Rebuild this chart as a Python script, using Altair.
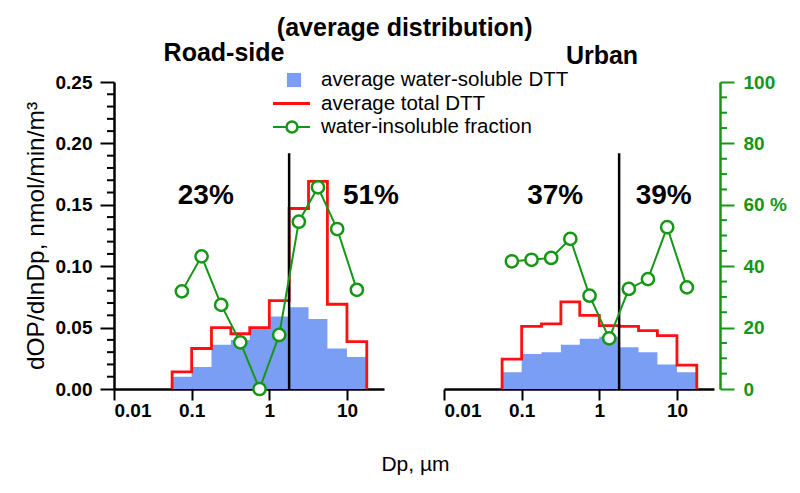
import altair as alt
import pandas as pd
import numpy as np

# ---------------- data ----------------
EDGES = [0.056, 0.1, 0.18, 0.32, 0.56, 1.0, 1.8, 3.2, 5.6, 10.0, 18.0]

ROAD_WS = [0.010, 0.018, 0.036, 0.040, 0.0495, 0.059, 0.0665, 0.057, 0.033, 0.026]
ROAD_TOT = [0.014, 0.033, 0.050, 0.045, 0.050, 0.072, 0.147, 0.169, 0.069, 0.0385]
ROAD_INS = [31.8, 43.2, 27.4, 15.2, 0.0, 17.6, 54.5, 65.7, 52.1, 32.3]

URB_WS = [0.0136, 0.0285, 0.030, 0.036, 0.041, 0.0426, 0.034, 0.030, 0.020, 0.0136]
URB_TOT = [0.0244, 0.051, 0.053, 0.071, 0.060, 0.0516, 0.051, 0.0475, 0.0434, 0.0195]
URB_INS = [41.6, 42.1, 42.7, 48.9, 30.4, 16.5, 32.6, 35.8, 52.7, 33.1]

CUTOFF = 1.8
CUTOFF_TOP = 0.192

ROAD_PCT_TEXT = ["23%", "51%"]
ROAD_PCT_X = [0.152, 20.4]
URB_PCT_TEXT = ["37%", "39%"]
URB_PCT_X = [0.27, 6.75]
PCT_Y = 0.157

LEGEND_LABELS = ["average water-soluble DTT", "average total DTT", "water-insoluble fraction"]

X_TICKS = [0.01, 0.1, 1, 10]
Y_TICKS = [0.0, 0.05, 0.10, 0.15, 0.20, 0.25]
Y_MINOR = [round(i * 0.01, 2) for i in range(26) if i % 5 != 0]
P_TICKS = [0, 20, 40, 60, 80, 100]
P_MINOR = [v for v in range(0, 101, 5) if v % 20 != 0]

# ---------------- style ----------------
BLUE = "#7b9ef5"
RED = "#ff1010"
GREEN = "#169616"
FONT = "Liberation Sans"
W, H = 270, 307

xscale = alt.Scale(type="log", domain=[0.01, 30])
yscale = alt.Scale(domain=[0, 0.25])
pscale = alt.Scale(domain=[0, 100])


def panel(title, dx, ws, tot, ins, pct_text, pct_x, left):
    n = len(ws)
    mids = list(np.sqrt(np.array(EDGES[:-1]) * np.array(EDGES[1:])))
    area_df = pd.DataFrame({"dp": EDGES, "v": ws + [ws[-1]]})
    line_df = pd.DataFrame({
        "dp": [EDGES[0]] + EDGES + [EDGES[-1]],
        "v": [0.0] + tot + [tot[-1], 0.0],
        "o": list(range(n + 3)),
    })
    ins_df = pd.DataFrame({"dp": mids, "p": ins})
    txt_df = pd.DataFrame({"dp": pct_x, "v": [PCT_Y] * len(pct_x), "t": pct_text})
    cut_df = pd.DataFrame({"dp": [CUTOFF], "v": [0.0], "v2": [CUTOFF_TOP]})

    if left:
        xaxis = alt.Axis(values=X_TICKS, labelExpr="format(datum.value, '~g')",
                         title="Dp, µm", titleX=301, titleY=75, titleBaseline="middle",
                         titleFontSize=21, titleFontWeight="normal", titleColor="black")
        yaxis = alt.Axis(values=Y_TICKS, format=".2f", labelPadding=8,
                         title="dOP/dlnDp, nmol/min/m³", titleFontSize=24.5,
                         titleFontWeight="normal", titleColor="black", titlePadding=7)
    else:
        xaxis = alt.Axis(values=X_TICKS, labelExpr="format(datum.value, '~g')", title=None)
        yaxis = None

    x = alt.X("dp:Q", scale=xscale, axis=xaxis)

    area = alt.Chart(area_df).mark_area(interpolate="step-after", color=BLUE, opacity=1).encode(
        x=x, y=alt.Y("v:Q", scale=yscale, axis=yaxis), y2=alt.datum(0))
    line = alt.Chart(line_df).mark_line(interpolate="step-after", color=RED, strokeWidth=2.8).encode(
        x=alt.X("dp:Q", scale=xscale), y=alt.Y("v:Q", scale=yscale), order="o:Q")
    cut = alt.Chart(cut_df).mark_rule(color="black", strokeWidth=2.5).encode(
        x=alt.X("dp:Q", scale=xscale), y=alt.Y("v:Q", scale=yscale), y2="v2:Q")
    txt = alt.Chart(txt_df).mark_text(fontSize=28, fontWeight="bold", font=FONT, color="black").encode(
        x=alt.X("dp:Q", scale=xscale), y=alt.Y("v:Q", scale=yscale), text="t:N")
    dtt_layers = [area, line, cut, txt]
    if left:
        minor = alt.Chart(pd.DataFrame({"v": Y_MINOR})).mark_rule(color="black", strokeWidth=2).encode(
            y=alt.Y("v:Q", scale=yscale), x=alt.value(-7), x2=alt.value(0))
        dtt_layers.append(minor)
    dtt = alt.layer(*dtt_layers)

    if left:
        paxis = None
    else:
        paxis = alt.Axis(orient="right", values=P_TICKS,
                         labelExpr="datum.value == 60 ? '60 %' : datum.value",
                         title=None, offset=6, domainColor=GREEN, tickColor=GREEN,
                         labelColor=GREEN, labelPadding=9)
    gline = alt.Chart(ins_df).mark_line(color=GREEN, strokeWidth=2,
                                         point=alt.OverlayMarkDef(filled=False, fill="white", color=GREEN,
                                                                  size=150, strokeWidth=2.5)).encode(
        x=alt.X("dp:Q", scale=xscale), y=alt.Y("p:Q", scale=pscale, axis=paxis))
    p_layers = [gline]
    if not left:
        pminor = alt.Chart(pd.DataFrame({"p": P_MINOR})).mark_rule(color=GREEN, strokeWidth=2).encode(
            y=alt.Y("p:Q", scale=pscale), x=alt.value(W + 6), x2=alt.value(W + 13))
        p_layers.append(pminor)
    pct = alt.layer(*p_layers)

    layers = [dtt, pct]
    if left:
        leg_df = pd.DataFrame({"label": LEGEND_LABELS, "k": ["ws", "tot", "ins"]})
        ly = alt.Y("label:N", scale=alt.Scale(type="point", domain=LEGEND_LABELS, range=[-2, 45], padding=0),
                   axis=None)
        base = alt.Chart(leg_df)
        sq = base.transform_filter("datum.k == 'ws'").mark_square(color=BLUE, size=200, opacity=1).encode(
            y=ly, x=alt.value(180))
        rl = base.transform_filter("datum.k == 'tot'").mark_rule(color=RED, strokeWidth=2.8).encode(
            y=ly, x=alt.value(159), x2=alt.value(196))
        gl = base.transform_filter("datum.k == 'ins'").mark_rule(color=GREEN, strokeWidth=2).encode(
            y=ly, x=alt.value(159), x2=alt.value(196))
        gp = base.transform_filter("datum.k == 'ins'").mark_point(color=GREEN, fill="white", filled=False,
                                                                 size=120, strokeWidth=2.5, opacity=1).encode(
            y=ly, x=alt.value(178))
        lt = base.mark_text(align="left", baseline="middle", fontSize=20.5, font=FONT, color="black").encode(
            y=ly, x=alt.value(207), text="label:N")
        layers.append(alt.layer(sq, rl, gl, gp, lt))

    return alt.layer(*layers).resolve_scale(y="independent").properties(
        width=W, height=H,
        title=alt.TitleParams(title, fontSize=25, fontWeight="bold", font=FONT, dx=dx,
                              offset=4, anchor="middle", color="black"))


left = panel("Road-side", -25, ROAD_WS, ROAD_TOT, ROAD_INS, ROAD_PCT_TEXT, ROAD_PCT_X, True)
right = panel("Urban", 23, URB_WS, URB_TOT, URB_INS, URB_PCT_TEXT, URB_PCT_X, False)

chart = alt.hconcat(left, right, spacing=60, bounds="flush").properties(
    title=alt.TitleParams("(average distribution)", fontSize=25, fontWeight="bold", font=FONT,
                          anchor="middle", color="black", offset=0),
    padding={"left": 15, "top": 8, "right": 5, "bottom": 5},
).configure_view(stroke=None).configure_axis(
    grid=False, domainColor="black", domainWidth=2.5, tickColor="black", tickWidth=2,
    tickSize=14, labelFont=FONT, labelFontSize=19, labelFontWeight="bold", labelColor="black",
    titleFont=FONT, labelPadding=4,
).configure_axisX(tickSize=11, labelPadding=1)

chart.save("out.html", embed_options={"renderer": "svg", "actions": False})
